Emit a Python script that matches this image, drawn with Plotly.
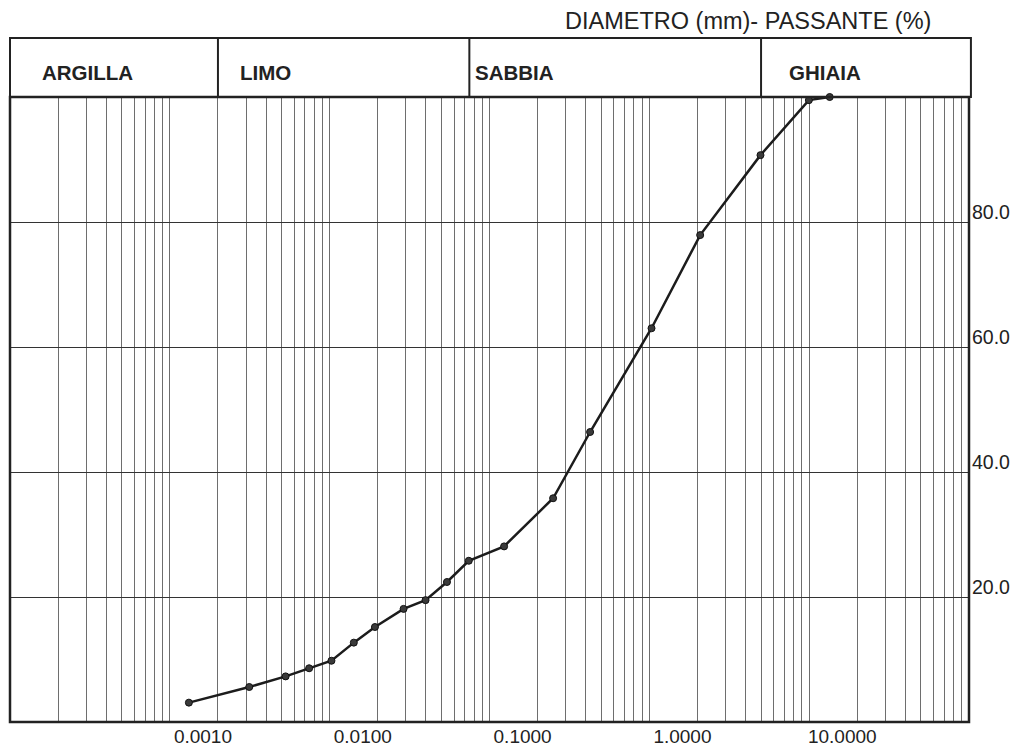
import numpy as np
import plotly.graph_objects as go

# ---- data ----
diameter_mm = [0.000658, 0.00157, 0.00265, 0.00372, 0.00513, 0.00708, 0.0096,
               0.0145, 0.0199, 0.0271, 0.0371, 0.0617, 0.125, 0.213, 0.516,
               1.04, 2.48, 4.98, 6.72]
passing_pct = [3.1, 5.6, 7.3, 8.6, 9.8, 12.7, 15.2, 18.1, 19.5, 22.4, 25.8,
               28.1, 35.8, 46.4, 63.0, 77.9, 90.7, 99.5, 100.0]

x_label_vals = [0.001, 0.01, 0.1, 1, 10]
x_label_text = ["0.0010", "0.0100", "0.1000", "1.0000", "10.0000"]
grid_mults = [1, 1.5, 2, 2.5, 3, 3.5, 4, 4.5, 5]
grid_decades = [-4, -3, -2, -1, 0, 1]
y_tick_vals = [20, 40, 60, 80]
y_tick_text = ["20.0", "40.0", "60.0", "80.0"]

x_min, x_max = 5e-5, 50
class_names = ["ARGILLA", "LIMO", "SABBIA", "GHIAIA"]
class_bounds = [0.001, 0.0374, 2.5]
title_text = "DIAMETRO (mm)- PASSANTE (%)"

# all vertical grid positions; only decades 0.001..10 carry a label
grid_vals = [m * 10.0 ** d for d in grid_decades for m in grid_mults]
grid_text = []
for v in grid_vals:
    lbl = ""
    for lv, lt in zip(x_label_vals, x_label_text):
        if abs(v - lv) / lv < 1e-9:
            lbl = lt
    grid_text.append(lbl)

FONT = "Liberation Sans, Arial, sans-serif"
DARK = "#222222"

fig = go.Figure()
fig.add_trace(go.Scatter(
    x=diameter_mm, y=passing_pct, mode="lines+markers",
    line=dict(color="#1c1c1c", width=2.5),
    marker=dict(size=7, color="#3a3a3a", line=dict(color="#111111", width=1)),
    cliponaxis=False, showlegend=False, hoverinfo="x+y",
))

fig.update_xaxes(
    type="log", range=[np.log10(x_min), np.log10(x_max)],
    tickmode="array", tickvals=grid_vals, ticktext=grid_text,
    showgrid=True, gridcolor="#6e6e6e", gridwidth=1,
    ticks="", zeroline=False, showline=False, automargin=False,
    tickfont=dict(family=FONT, size=19, color=DARK),
    ticklabelshift=-15, ticklabelstandoff=1,
)
fig.update_yaxes(
    range=[0, 100], side="right",
    tickmode="array", tickvals=y_tick_vals, ticktext=y_tick_text,
    showgrid=True, gridcolor="#333333", gridwidth=1.2,
    ticks="", zeroline=False, showline=False, automargin=False,
    tickfont=dict(family=FONT, size=19.5, color=DARK),
    ticklabelshift=-10, ticklabelstandoff=2,
)

shapes = []
# plot frame
shapes.append(dict(type="rect", xref="paper", yref="paper", x0=0, x1=1, y0=0, y1=1,
                   line=dict(color=DARK, width=2.5), layer="above"))
# header box
hdr_top = 1.0944
shapes.append(dict(type="rect", xref="paper", yref="paper", x0=0, x1=1.002, y0=1, y1=hdr_top,
                   line=dict(color=DARK, width=2), layer="above"))
for b in class_bounds:
    shapes.append(dict(type="line", xref="x", yref="paper", x0=b, x1=b, y0=1, y1=hdr_top,
                       line=dict(color=DARK, width=2)))

annotations = []
label_x = [0.0318, 0.2373, 0.4825, 0.8100]
for name, lx in zip(class_names, label_x):
    annotations.append(dict(text=f"<b>{name}</b>", xref="paper", yref="paper",
                            x=lx, y=1.0392, xanchor="left", yanchor="middle",
                            showarrow=False, font=dict(family=FONT, size=20.5, color=DARK)))
annotations.append(dict(text=title_text, xref="paper", yref="paper", x=0.9624, y=1.122,
                        xanchor="right", yanchor="middle", showarrow=False,
                        font=dict(family=FONT, size=23.5, color=DARK)))

fig.update_layout(
    width=1013, height=746,
    margin=dict(l=10, r=44, t=97, b=24),
    paper_bgcolor="white", plot_bgcolor="white",
    shapes=shapes, annotations=annotations, showlegend=False,
)

# remove the default 8px page margin so the figure fills the window exactly
fig.write_html(
    "out.html",
    config={"displayModeBar": False},
    post_script="document.body.style.margin='0';document.body.style.overflow='hidden';",
)
